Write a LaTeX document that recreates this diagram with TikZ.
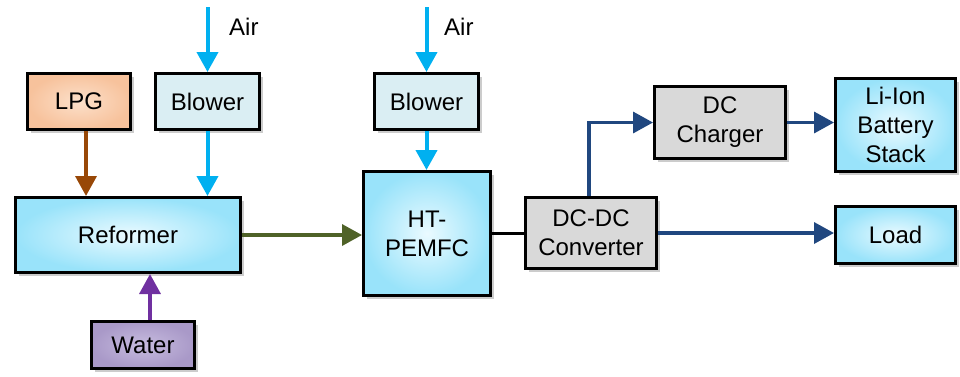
\documentclass[tikz,border=0pt]{standalone}
\usepackage{fontspec}
\setmainfont{Liberation Sans}
\usetikzlibrary{arrows.meta,shadows}
\definecolor{aircol}{HTML}{00B0F0}
\definecolor{browncol}{HTML}{984807}
\definecolor{purplecol}{HTML}{7030A0}
\definecolor{greencol}{HTML}{4F6228}
\definecolor{navycol}{HTML}{20477F}
\definecolor{lpgout}{HTML}{F7C29C}
\definecolor{lpgin}{HTML}{FCE0CA}
\definecolor{blowfill}{HTML}{DAEEF3}
\definecolor{cyanout}{HTML}{99E3FA}
\definecolor{cyanin}{HTML}{EAFAFF}
\definecolor{waterout}{HTML}{A999C8}
\definecolor{waterin}{HTML}{C7BCDF}
\definecolor{greyfill}{HTML}{D9D9D9}
\tikzset{
  box/.style={draw=black, line width=3pt, align=center, inner sep=0pt,
    font=\fontsize{24}{29}\selectfont,
    drop shadow={shadow xshift=3pt, shadow yshift=-3pt, fill=black!40, opacity=0.5}},
  cyanbox/.style={box, shading=radial, inner color=cyanin, outer color=cyanout},
  lpgbox/.style={box, shading=radial, inner color=lpgin, outer color=lpgout},
  waterbox/.style={box, shading=radial, inner color=waterin, outer color=waterout},
  blowbox/.style={box, fill=blowfill},
  greybox/.style={box, fill=greyfill},
  flow/.style={line width=3.5pt, -{Triangle[length=20pt,width=21pt]}},
  airflow/.style={flow, line width=4pt, draw=aircol, color=aircol},
  lbl/.style={font=\fontsize{24}{29}\selectfont, anchor=west, inner sep=0pt}
}
\begin{document}
\begin{tikzpicture}[x=1pt,y=-1pt]
\useasboundingbox (0,0) rectangle (960,376);
% boxes
\node[lpgbox, minimum width=103pt, minimum height=56pt] (lpg) at (79,101.5) {LPG};
\node[blowbox, minimum width=104pt, minimum height=56pt] (blowa) at (207.5,101.5) {Blower};
\node[cyanbox, minimum width=225pt, minimum height=75pt] (ref) at (128,235) {Reformer};
\node[waterbox, minimum width=103pt, minimum height=47pt] (water) at (143,345) {Water};
\node[blowbox, minimum width=104pt, minimum height=56pt] (blowb) at (426.5,101.5) {Blower};
\node[cyanbox, minimum width=127pt, minimum height=124pt] (ht) at (427,233.5) {HT-\\PEMFC};
\node[greybox, minimum width=131pt, minimum height=71pt] (dcdc) at (591,233) {DC-DC\\Converter};
\node[greybox, minimum width=131pt, minimum height=72pt] (chg) at (720,122.5) {DC\\Charger};
\node[cyanbox, minimum width=120pt, minimum height=93pt] (bat) at (895.5,125) {Li-Ion\\Battery\\Stack};
\node[cyanbox, minimum width=120pt, minimum height=57pt] (load) at (895.5,235) {Load};
% air inputs
\coordinate (aira) at (207.5,7);
\coordinate (airb) at (426.5,7);
\node[lbl] (airlbla) at (229,27) {Air};
\node[lbl] (airlblb) at (444,27) {Air};
\draw[airflow] (aira) -- (blowa.north);
\draw[airflow] (airb) -- (blowb.north);
% flows
\coordinate (lpgo) at ([xshift=7pt]lpg.south);
\draw[flow, draw=browncol, color=browncol] (lpgo) -- (lpgo |- ref.north);
\draw[airflow] (blowa.south) -- (blowa.south |- ref.north);
\coordinate (watero) at ([xshift=7pt]water.north);
\draw[flow, draw=purplecol, color=purplecol] (watero) -- (watero |- ref.south);
\draw[flow, draw=greencol, color=greencol] (ref.east) -- (ref.east -| ht.west);
\draw[airflow] (blowb.south) -- (blowb.south |- ht.north);
\draw[line width=3.5pt, black] (ht.east) -- (ht.east -| dcdc.west);
\coordinate (dco) at ([xshift=-2pt]dcdc.north);
\draw[flow, draw=navycol, color=navycol] (dco) |- (chg.west);
\draw[flow, draw=navycol, color=navycol] (chg.east) -- (chg.east -| bat.west);
\draw[flow, draw=navycol, color=navycol] (dcdc.east) -- (dcdc.east -| load.west);
\end{tikzpicture}
\end{document}
